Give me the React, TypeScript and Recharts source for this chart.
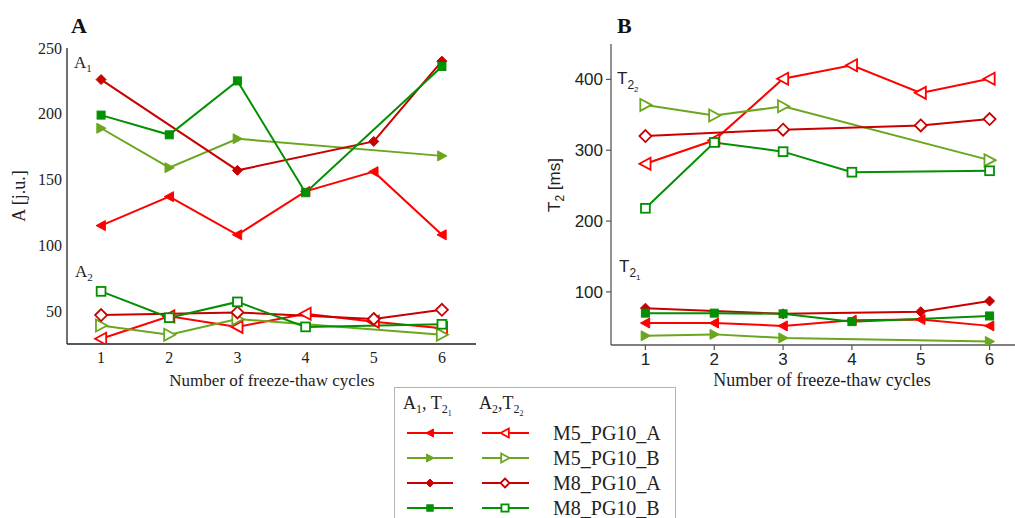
import { LineChart, Line, XAxis, YAxis } from "recharts";

const CYCLES = [1, 2, 3, 4, 5, 6];
const MINOR_X = [1.5, 2.5, 3.5, 4.5, 5.5];

// panel A – amplitudes A1 (filled) and A2 (open), j.u.
const A1_M5_PG10_A = [115, 137, 108, 141, 156, 108];
const A1_M5_PG10_B = [189, 159, 181, null, null, 168];
const A1_M8_PG10_A = [226, null, 157, null, 179, 240];
const A1_M8_PG10_B = [199, 184, 225, 140, null, 236];
const A2_M5_PG10_A = [29, 46, 38, 48, 42, 37];
const A2_M5_PG10_B = [39, 32, 44, null, null, 32];
const A2_M8_PG10_A = [47, null, 49, null, 44, 51];
const A2_M8_PG10_B = [65, 45, 57, 38, null, 40];

// panel B – relaxation times T2_1 (filled) and T2_2 (open), ms
const T21_M5_PG10_A = [56, 56, 52, 60, 61, 52];
const T21_M5_PG10_B = [38, 40, 35, null, null, 30];
const T21_M8_PG10_A = [77, null, 69, null, 72, 87];
const T21_M8_PG10_B = [70, 70, 69, 58, null, 66];
const T22_M5_PG10_A = [281, 314, 401, 420, 381, 401];
const T22_M5_PG10_B = [364, 349, 362, null, null, 286];
const T22_M8_PG10_A = [320, null, 329, null, 335, 344];
const T22_M8_PG10_B = [218, 311, 298, 269, null, 271];

const A_TICKS = [50, 100, 150, 200, 250];
const A_MINOR = [75, 125, 175, 225];
const B_TICKS = [100, 200, 300, 400];
const B_MINOR = [50, 150, 250, 350];

const RED = "#ff0000";
const LIME = "#6aa61e";
const DARK = "#c80000";
const GREEN = "#009000";
const SERIF = "'Liberation Serif', 'Times New Roman', serif";
const SANS = "'Liberation Sans', Arial, sans-serif";

type Shape = "left" | "right" | "diamond" | "square";

const SERIES: { name: string; color: string; shape: Shape }[] = [
  { name: "M5_PG10_A", color: RED, shape: "left" },
  { name: "M5_PG10_B", color: LIME, shape: "right" },
  { name: "M8_PG10_A", color: DARK, shape: "diamond" },
  { name: "M8_PG10_B", color: GREEN, shape: "square" },
];

const dataA = CYCLES.map((c, i) => ({
  cycle: c,
  f0: A1_M5_PG10_A[i], f1: A1_M5_PG10_B[i], f2: A1_M8_PG10_A[i], f3: A1_M8_PG10_B[i],
  o0: A2_M5_PG10_A[i], o1: A2_M5_PG10_B[i], o2: A2_M8_PG10_A[i], o3: A2_M8_PG10_B[i],
}));

const dataB = CYCLES.map((c, i) => ({
  cycle: c,
  f0: T21_M5_PG10_A[i], f1: T21_M5_PG10_B[i], f2: T21_M8_PG10_A[i], f3: T21_M8_PG10_B[i],
  o0: T22_M5_PG10_A[i], o1: T22_M5_PG10_B[i], o2: T22_M8_PG10_A[i], o3: T22_M8_PG10_B[i],
}));

function Marker({ cx, cy, shape, color, filled, s }: { cx: number; cy: number; shape: Shape; color: string; filled: boolean; s: number }) {
  const fill = filled ? color : "#fff";
  const sw = filled ? 1 : 1.8;
  if (shape === "square") {
    const h = s * 0.8;
    return <rect x={cx - h} y={cy - h} width={h * 2} height={h * 2} fill={fill} stroke={color} strokeWidth={sw} />;
  }
  let pts = "";
  if (shape === "left") pts = `${cx - s},${cy} ${cx + s * 0.85},${cy - s} ${cx + s * 0.85},${cy + s}`;
  if (shape === "right") pts = `${cx + s},${cy} ${cx - s * 0.85},${cy - s} ${cx - s * 0.85},${cy + s}`;
  if (shape === "diamond") pts = `${cx},${cy - s} ${cx + s},${cy} ${cx},${cy + s} ${cx - s},${cy}`;
  return <polygon points={pts} fill={fill} stroke={color} strokeWidth={sw} strokeLinejoin="miter" />;
}

const dotFn = (shape: Shape, color: string, filled: boolean, s: number) => (p: any) => {
  if (p.value == null || p.cx == null || p.cy == null) return <g key={`n${p.index}`} />;
  return (
    <g key={`d${p.index}`}>
      <Marker cx={p.cx} cy={p.cy} shape={shape} color={color} filled={filled} s={s} />
    </g>
  );
};

// tick label drawn by hand so the font family sticks
const tickText = (font: string, size: number, vertical: boolean) => (p: any) => (
  <text x={p.x} y={p.y} textAnchor={vertical ? "end" : "middle"} dy={vertical ? "0.35em" : "0.75em"}
    fontFamily={font} fontSize={size} fill="#222">
    {p.payload.value}
  </text>
);

function Panel({ data, yDomain, yTicks, yMinor, font, axis, outward, margin, size }: any) {
  const fs = font === SERIF ? 16 : 17;
  const axLine = { stroke: axis, strokeWidth: 1.3 };
  const tl = { stroke: axis, strokeWidth: 1.2 };
  return (
    <LineChart width={size[0]} height={size[1]} data={data} margin={margin}>
      <XAxis xAxisId="x" dataKey="cycle" type="number" domain={[0.5, 6.5]} ticks={CYCLES} allowDataOverflow height={30}
        tickLine={outward ? tl : false} tickSize={outward ? 5 : 0} tickMargin={outward ? 2 : 7} axisLine={axLine} tick={tickText(font, fs, false)} />
      {!outward && (
        <XAxis xAxisId="xt" type="number" domain={[0.5, 6.5]} ticks={CYCLES} allowDataOverflow mirror height={0}
          tick={false} tickSize={5} axisLine={false} tickLine={tl} />
      )}
      <XAxis xAxisId="xm" type="number" domain={[0.5, 6.5]} ticks={MINOR_X} allowDataOverflow mirror height={0}
        tick={false} tickSize={3} axisLine={false} tickLine={tl} />
      <XAxis xAxisId="top" orientation="top" type="number" domain={[0.5, 6.5]} allowDataOverflow height={0}
        tick={false} tickLine={false} axisLine={axLine} />
      <YAxis yAxisId="y" type="number" domain={yDomain} ticks={yTicks} allowDataOverflow width={45}
        tickLine={outward ? tl : false} tickSize={outward ? 5 : 0} tickMargin={outward ? 3 : 5} axisLine={axLine} tick={tickText(font, fs, true)} />
      {!outward && (
        <YAxis yAxisId="yt" type="number" domain={yDomain} ticks={yTicks} allowDataOverflow mirror width={0}
          tick={false} tickSize={5} axisLine={false} tickLine={tl} />
      )}
      <YAxis yAxisId="ym" type="number" domain={yDomain} ticks={yMinor} allowDataOverflow mirror width={0}
        tick={false} tickSize={3} axisLine={false} tickLine={tl} />
      <YAxis yAxisId="right" orientation="right" type="number" domain={yDomain} allowDataOverflow width={0}
        tick={false} tickLine={false} axisLine={axLine} />
      {SERIES.map((s, k) => (
        <Line key={`o${k}`} xAxisId="x" yAxisId="y" type="linear" dataKey={`o${k}`} stroke={s.color} strokeWidth={2}
          connectNulls isAnimationActive={false} dot={dotFn(s.shape, s.color, false, s.shape === "square" ? 5.5 : 6)} activeDot={false} />
      ))}
      {SERIES.map((s, k) => (
        <Line key={`f${k}`} xAxisId="x" yAxisId="y" type="linear" dataKey={`f${k}`} stroke={s.color} strokeWidth={2}
          connectNulls isAnimationActive={false} dot={dotFn(s.shape, s.color, true, 5)} activeDot={false} />
      ))}
    </LineChart>
  );
}

export default function App() {
  const rows = [433, 458, 483, 508];
  return (
    <div style={{ position: "absolute", left: 0, top: 0, width: 1015, height: 518, overflow: "hidden", background: "#fff" }}>
      <div style={{ position: "absolute", left: 0, top: 0 }}>
        <Panel data={dataA} yDomain={[25, 250]} yTicks={A_TICKS} yMinor={A_MINOR} font={SERIF} axis="#222" outward={false}
          margin={{ top: 48, left: 22, right: 14, bottom: 26 }} size={[490, 400]} />
      </div>
      <div style={{ position: "absolute", left: 520, top: 0 }}>
        <Panel data={dataB} yDomain={[25, 450]} yTicks={B_TICKS} yMinor={B_MINOR} font={SANS} axis="#555" outward={true}
          margin={{ top: 44, left: 46, right: 16, bottom: 25 }} size={[520, 400]} />
      </div>

      <svg width={1015} height={518} style={{ position: "absolute", left: 0, top: 0, pointerEvents: "none" }}>
        {/* panel titles */}
        <text x={71} y={33} fontFamily={SERIF} fontWeight="bold" fontSize={22} fill="#111">A</text>
        <text x={617} y={33} fontFamily={SERIF} fontWeight="bold" fontSize={22} fill="#111">B</text>

        {/* in-plot annotations */}
        <text x={74} y={68} fontFamily={SERIF} fontSize={17} fill="#222">A<tspan fontSize={11} dy={4}>1</tspan></text>
        <text x={75} y={277} fontFamily={SERIF} fontSize={17} fill="#222">A<tspan fontSize={11} dy={4}>2</tspan></text>
        <text x={617} y={84} fontFamily={SANS} fontSize={17} fill="#222">T<tspan fontSize={12} dy={5}>2</tspan><tspan fontSize={8} dy={3}>2</tspan></text>
        <text x={619} y={272} fontFamily={SANS} fontSize={17} fill="#222">T<tspan fontSize={12} dy={5}>2</tspan><tspan fontSize={8} dy={3}>1</tspan></text>

        {/* axis titles */}
        <text transform="translate(25,196) rotate(-90)" textAnchor="middle" fontFamily={SERIF} fontSize={18} fill="#222">A [j.u.]</text>
        <text transform="translate(560,185) rotate(-90)" textAnchor="middle" fontFamily={SANS} fontSize={17} fill="#222">T<tspan fontSize={12} dy={4}>2</tspan><tspan dy={-4}> [ms]</tspan></text>
        <text x={272} y={386} textAnchor="middle" fontFamily={SERIF} fontSize={17} fill="#222">Number of freeze-thaw cycles</text>
        <text x={822} y={386} textAnchor="middle" fontFamily={SERIF} fontSize={18} fill="#222">Number of freeze-thaw cycles</text>

        {/* legend */}
        <rect x={394.5} y={387.5} width={281} height={140} fill="none" stroke="#b4b4b4" strokeWidth={1} />
        <text x={403} y={409} fontFamily={SERIF} fontSize={18} fill="#222">
          A<tspan fontSize={12} dy={4}>1</tspan><tspan dy={-4}>, T</tspan><tspan fontSize={12} dy={4}>2</tspan><tspan fontSize={8} dy={3}>1</tspan>
        </text>
        <text x={479} y={409} fontFamily={SERIF} fontSize={18} fill="#222">
          A<tspan fontSize={12} dy={4}>2</tspan><tspan dy={-4}>,T</tspan><tspan fontSize={12} dy={4}>2</tspan><tspan fontSize={8} dy={3}>2</tspan>
        </text>
        {SERIES.map((s, k) => (
          <g key={s.name}>
            <line x1={407} x2={453} y1={rows[k]} y2={rows[k]} stroke={s.color} strokeWidth={2} />
            <Marker cx={430} cy={rows[k]} shape={s.shape} color={s.color} filled={true} s={4} />
            <line x1={482} x2={529} y1={rows[k]} y2={rows[k]} stroke={s.color} strokeWidth={2} />
            <Marker cx={505} cy={rows[k]} shape={s.shape} color={s.color} filled={false} s={4.5} />
            <text x={553} y={rows[k] + 7} fontFamily={SERIF} fontSize={20} fill="#222">{s.name}</text>
          </g>
        ))}
      </svg>
    </div>
  );
}
